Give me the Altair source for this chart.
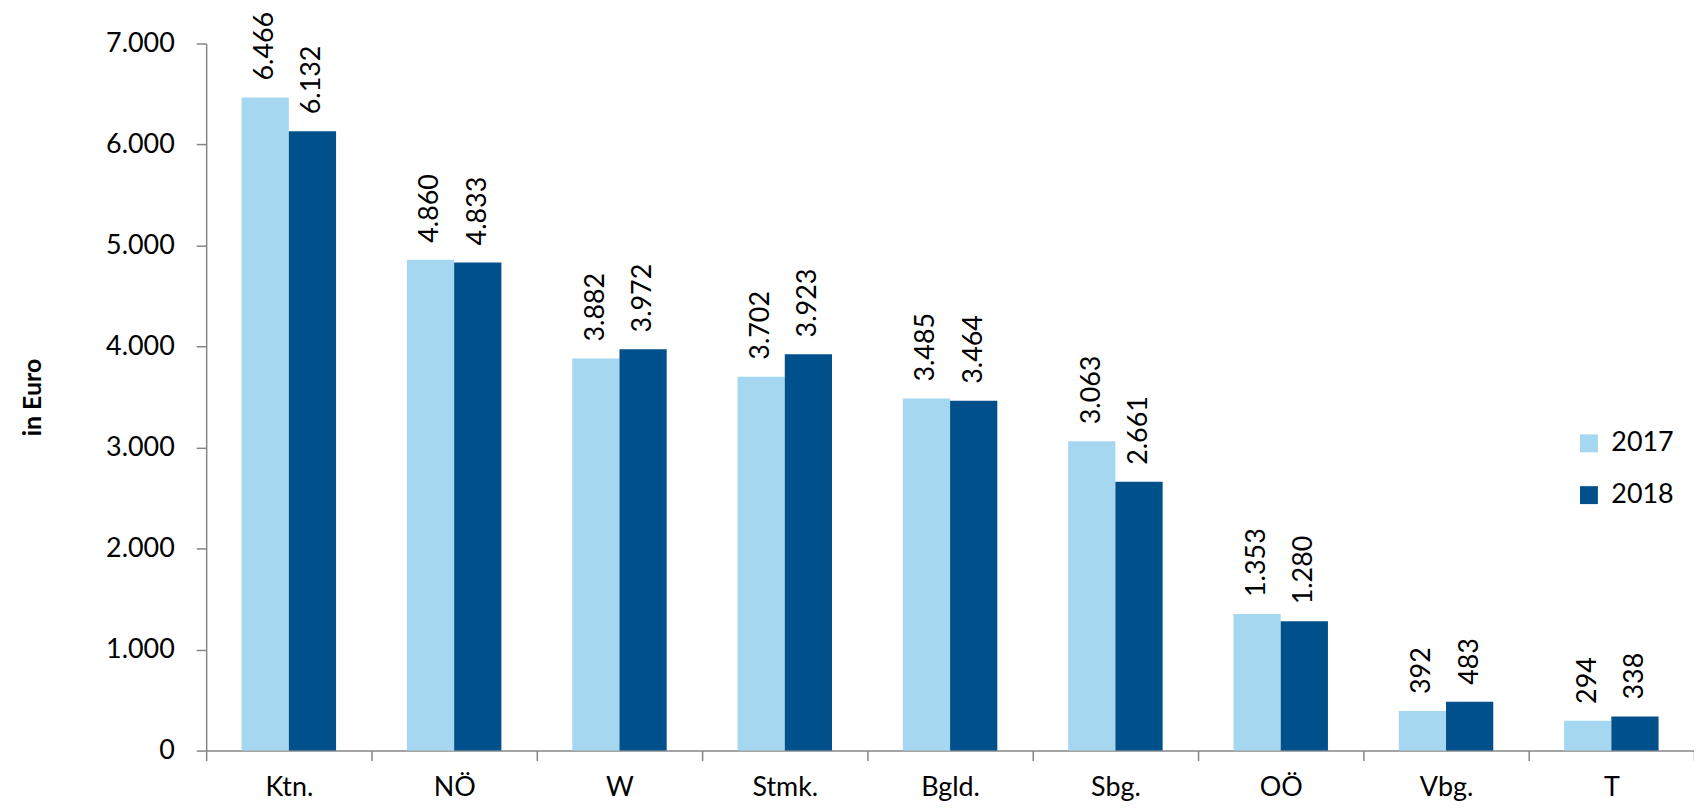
import altair as alt
import pandas as pd

categories = ["Ktn.", "NÖ", "W", "Stmk.", "Bgld.", "Sbg.", "OÖ", "Vbg.", "T"]
years = ["2017", "2018"]
values_2017 = [6466, 4860, 3882, 3702, 3485, 3063, 1353, 392, 294]
values_2018 = [6132, 4833, 3972, 3923, 3464, 2661, 1280, 483, 338]
colors = ["#A6D7F0", "#00508C"]

rows = []
for c, a, b in zip(categories, values_2017, values_2018):
    for y, v in zip(years, [a, b]):
        rows.append({"cat": c, "year": y, "value": v, "label": f"{v:,}".replace(",", ".")})
df = pd.DataFrame(rows)

FONT = "Lato"

x = alt.X("cat:N", sort=categories, title=None,
          scale=alt.Scale(paddingInner=0, paddingOuter=0),
          axis=alt.Axis(tickBand="extent", labelAngle=0, labelFontSize=27, labelFont=FONT,
                        labelColor="#000000", labelPadding=14, tickSize=10,
                        domainColor="#868686", tickColor="#868686", domainWidth=1.5, tickWidth=1.5))
xo = alt.XOffset("year:N", sort=years, scale=alt.Scale(paddingOuter=0.75, paddingInner=0))

bars = alt.Chart(df).mark_bar().encode(
    x=x,
    xOffset=xo,
    y=alt.Y("value:Q", title="in Euro",
            scale=alt.Scale(domain=[0, 7000], nice=False),
            axis=alt.Axis(values=[0, 1000, 2000, 3000, 4000, 5000, 6000, 7000],
                          labelExpr="replace(format(datum.value, ','), ',', '.')",
                          grid=False, labelFontSize=27, labelFont=FONT, labelColor="#000000",
                          labelPadding=22, tickSize=10, domainColor="#868686", tickColor="#868686",
                          domainWidth=1.5, tickWidth=1.5,
                          titleFont=FONT, titleFontSize=25, titleFontWeight="bold",
                          titleColor="#000000", titlePadding=60)),
    color=alt.Color("year:N", sort=years, scale=alt.Scale(domain=years, range=colors),
                    legend=alt.Legend(title=None, orient="none", legendX=1375, legendY=388,
                                      symbolType="square", symbolSize=324, symbolStrokeWidth=0,
                                      labelFontSize=27, labelFont=FONT, labelColor="#000000",
                                      labelOffset=9, rowPadding=24, padding=0)),
)

labels = alt.Chart(df).mark_text(angle=270, align="left", baseline="middle", dx=17,
                                 fontSize=27, font=FONT, color="#000000").encode(
    x=alt.X("cat:N", sort=categories),
    xOffset=xo,
    y=alt.Y("value:Q"),
    text="label:N",
)

chart = alt.layer(bars, labels).properties(
    width=1494, height=710,
    autosize=alt.AutoSizeParams(type="none"),
    padding={"left": 199, "top": 34, "right": 0, "bottom": 50},
).configure_view(stroke=None)

chart.save("out.html", embed_options={"renderer": "svg", "actions": False})
